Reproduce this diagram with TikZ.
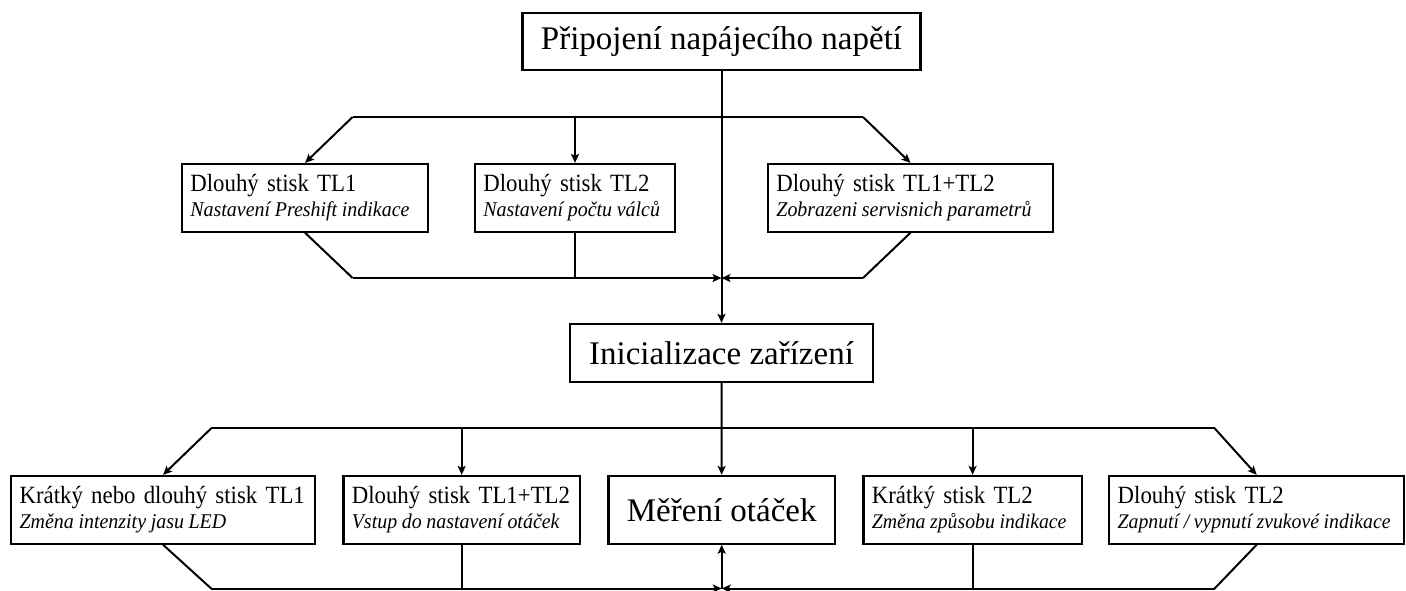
\documentclass[tikz,border=0pt]{standalone}
\usepackage{fontspec}
\setmainfont{Liberation Serif}
\newfontfamily\cond[FakeStretch=0.92, ItalicFeatures={FakeStretch=0.95}]{Liberation Serif}
\usetikzlibrary{arrows.meta}
\newcommand{\boxfont}{\cond\fontsize{12.4}{12.5}\selectfont\spaceskip=0.22em\relax}
\tikzset{
 box/.style={draw, line width=1.1pt, inner xsep=4.2pt, inner ysep=0pt, align=left, minimum height=33.8pt, font=\boxfont},
 big/.style={draw, line width=1.1pt, inner xsep=4pt, inner ysep=0pt, align=center, font=\fontsize{16.5}{18}\selectfont},
 con/.style={line width=1pt},
 arr/.style={con, -{Stealth[length=4.5pt,width=4pt,inset=1pt]}},
}
\newcommand{\subl}[2][10.5]{\mbox{\fontsize{#1}{12.5}\selectfont\itshape\spaceskip=0.22em\relax #2}}
\begin{document}
\begin{tikzpicture}[x=0.5pt,y=-0.5pt]
\useasboundingbox (0,0) rectangle (1406,590);
% nodes
\node[big, minimum width=199pt, minimum height=28.5pt] (top) at (721.5,41.4) {Připojení napájecího napětí};
\node[box, text width=114.6pt] (n1) at (305,197.8) {\mbox{Dlouhý stisk TL1}\\\subl{Nastavení Preshift indikace}};
\node[box, text width=91.6pt] (n2) at (575,197.8) {\mbox{Dlouhý stisk TL2}\\\subl{Nastavení počtu válců}};
\node[box, text width=134.1pt] (n3) at (910.5,197.8) {\mbox{Dlouhý stisk TL1+TL2}\\\subl{Zobrazeni servisnich parametrů}};
\node[big, minimum width=151.5pt, minimum height=29pt] (init) at (721.5,353) {Inicializace zařízení};
\node[box, text width=143.4pt] (A) at (163,509.8) {\mbox{Krátký nebo dlouhý stisk TL1}\\\subl{Změna intenzity jasu LED}};
\node[box, text width=109.9pt] (B) at (461.7,509.8) {\mbox{Dlouhý stisk TL1+TL2}\\\subl{Vstup do nastavení otáček}};
\node[big, minimum width=113.3pt, minimum height=33.8pt] (C) at (721.7,509.8) {Měření otáček};
\node[box, text width=100.8pt] (D) at (972.6,509.8) {\mbox{Krátký stisk TL2}\\\subl[10.4]{Změna způsobu indikace}};
\node[box, text width=139pt] (E) at (1256.7,509.8) {\mbox{Dlouhý stisk TL2}\\\subl[10.4]{Zapnutí / vypnutí zvukové indikace}};
% coordinates
\coordinate (t1) at (352.6,117);
\coordinate (t2) at (863,117);
\coordinate (b1l) at (352.6,278);
\coordinate (b1r) at (863,278);
\coordinate (m1) at (721.5,278);
\coordinate (t3) at (211.2,428.3);
\coordinate (t4) at (1214.6,428.3);
\coordinate (b3) at (211.2,588.5);
\coordinate (b4) at (1214.6,588.5);
\coordinate (m2) at (721.7,588.5);
% upper section
\draw[arr] (top) -- (init);
\draw[con] (t1) -- (t2);
\draw[arr] (t1) -- (n1.north);
\draw[arr] (n2.north |- t1) -- (n2.north);
\draw[arr] (t2) -- (n3.north);
\draw[con] (n1.south) -- (b1l);
\draw[arr] (b1l) -- (m1);
\draw[con] (n2.south) -- (n2.south |- b1l);
\draw[con] (n3.south) -- (b1r);
\draw[arr] (b1r) -- (m1);
% lower section
\draw[arr] (init) -- (C);
\draw[con] (t3) -- (t4);
\draw[arr] (t3) -- (A.north);
\draw[arr] (B.north |- t3) -- (B.north);
\draw[arr] (D.north |- t3) -- (D.north);
\draw[arr] (t4) -- (E.north);
\draw[con] (A.south) -- (b3);
\draw[arr] (b3) -- (m2);
\draw[con] (B.south) -- (B.south |- b3);
\draw[con] (D.south) -- (D.south |- b3);
\draw[con] (E.south) -- (b4);
\draw[arr] (b4) -- (m2);
\draw[arr] (m2) -- (C.south);
\end{tikzpicture}
\end{document}
